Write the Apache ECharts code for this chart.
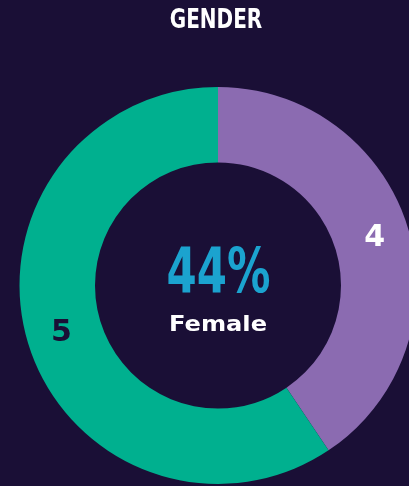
<!DOCTYPE html>
<html>
<head>
<meta charset="utf-8">
<script src="https://cdn.jsdelivr.net/npm/echarts@6/dist/echarts.min.js"></script>
<style>
html,body{margin:0;padding:0;background:#1a0f36;}
#chart{width:409px;height:486px;}
</style>
</head>
<body>
<div id="chart"></div>
<script>
// Data
var categories = ['Female', 'Male'];
var countLabels = ['4', '5'];          // numbers printed on the ring
var sliceShares = [40.6, 59.4];        // arc shares as drawn in the ring
var centerPercent = '44%';
var centerLabel = 'Female';
var titleText = 'GENDER';

var colors = ['#8b6bb1', '#00b08f'];
var labelColors = ['#ffffff', '#1a0f36'];

var chart = echarts.init(document.getElementById('chart'), null, {renderer: 'canvas'});

var pieData = categories.map(function (c, i) {
  return {
    name: c,
    value: sliceShares[i],
    itemStyle: {color: colors[i]},
    label: {color: labelColors[i], formatter: countLabels[i]}
  };
});

chart.setOption({
  backgroundColor: '#1a0f36',
  animation: false,
  graphic: [
    {
      type: 'text', x: 216, y: 21.5, scaleX: 0.77, silent: true,
      style: {text: titleText, x: 0, y: 0, fill: '#ffffff', font: 'bold 26px "DejaVu Sans"',
              textAlign: 'center', textVerticalAlign: 'middle'}
    },
    {
      type: 'text', x: 218.5, y: 276, scaleX: 0.7, silent: true,
      style: {text: centerPercent, x: 0, y: 0, fill: '#1ba3cf', font: 'bold 62px "DejaVu Sans"',
              textAlign: 'center', textVerticalAlign: 'middle'}
    },
    {
      type: 'text', x: 218, y: 326, scaleX: 1.15, silent: true,
      style: {text: centerLabel, x: 0, y: 0, fill: '#ffffff', font: 'bold 21px "DejaVu Sans"',
              textAlign: 'center', textVerticalAlign: 'middle'}
    }
  ],
  series: [{
    type: 'pie',
    center: [218, 285.5],
    radius: [123, 198.5],
    startAngle: 90,
    clockwise: true,
    silent: true,
    label: {
      show: true,
      position: 'inside',
      fontFamily: 'DejaVu Sans',
      fontWeight: 'bold',
      fontSize: 30
    },
    labelLine: {show: false},
    itemStyle: {borderWidth: 0},
    data: pieData
  }]
});
</script>
</body>
</html>
